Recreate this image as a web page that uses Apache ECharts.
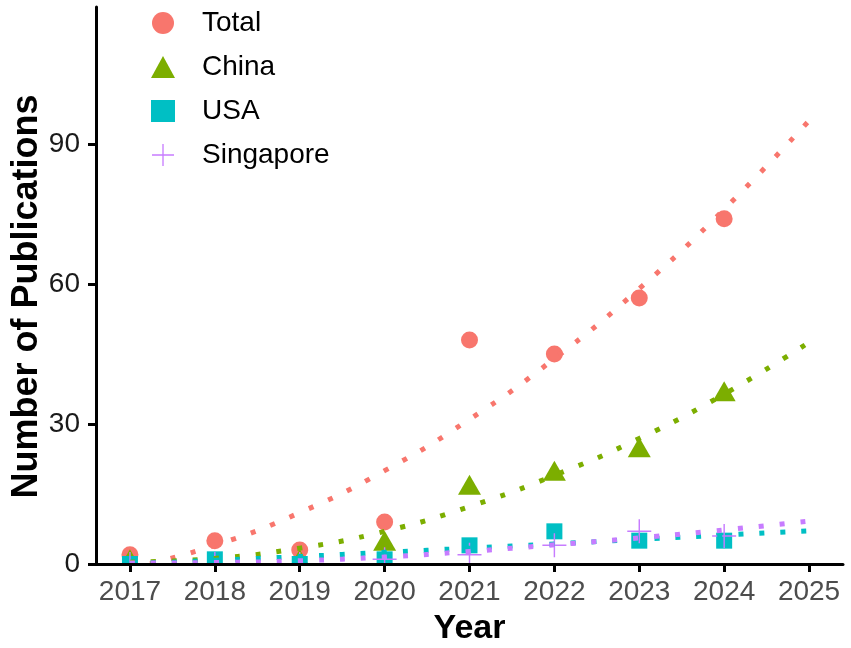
<!DOCTYPE html>
<html>
<head>
<meta charset="utf-8">
<title>Publications per year</title>
<script src="https://cdn.jsdelivr.net/npm/echarts@6/dist/echarts.min.js"></script>
<style>
  html, body { margin: 0; padding: 0; background: #fff; }
  #main { width: 851px; height: 648px; }
</style>
</head>
<body>
<div id="main"></div>
<script>
// observed counts
const years = [2017, 2018, 2019, 2020, 2021, 2022, 2023, 2024];
const total = [2, 5, 3, 9, 48, 45, 57, 74];
const china = [1, 0, 1, 5, 17, 20, 25, 37];
const usa = [0, 1, 0, 1, 4, 7, 5, 5];
const singapore = [0, 0, 0, 1, 2, 4, 7, 6];

// fitted trend curves
const trendYears = [2017, 2018, 2019, 2020, 2021, 2022, 2023, 2024, 2025];
const totalTrend = [-1, 4, 11, 20, 31, 44, 59, 76, 95];
const chinaTrend = [0.4, 1.2, 3.4, 7.0, 12.3, 19.0, 26.9, 36.4, 47.5];
const usaTrend = [0, 0.8, 1.6, 2.5, 3.4, 4.3, 5.3, 6.2, 7.1];
const singaporeTrend = [0.2, 0.3, 0.7, 1.5, 2.7, 4.1, 5.6, 7.3, 9.2];

const yTicks = [0, 30, 60, 90];
const xTicks = [2017, 2018, 2019, 2020, 2021, 2022, 2023, 2024, 2025];

const FONT = "'Liberation Sans', Arial, sans-serif";
const PLUS = "path://M-0.06,-1 L0.06,-1 L0.06,-0.06 L1,-0.06 L1,0.06 L0.06,0.06 L0.06,1 L-0.06,1 L-0.06,0.06 L-1,0.06 L-1,-0.06 L-0.06,-0.06 Z";

function pairs(xs, ys) {
  return xs.map(function (x, i) { return [x, ys[i]]; });
}

function points(name, values, color, symbol, size) {
  return {
    name: name,
    type: "scatter",
    data: pairs(years, values),
    symbol: symbol,
    symbolSize: size,
    itemStyle: { color: color, opacity: 1 },
    z: 2,
    silent: true,
  };
}

function trend(name, values, color) {
  return {
    name: name,
    type: "line",
    data: pairs(trendYears, values),
    smooth: true,
    showSymbol: false,
    lineStyle: { color: color, width: 5, type: [5, 16] },
    z: 3,
    silent: true,
  };
}

var myChart = echarts.init(document.getElementById("main"));

var option = {
  backgroundColor: "#fff",
  animation: false,
  textStyle: { fontFamily: FONT },
  grid: { left: 96, right: 8, top: 7, bottom: 84, containLabel: false, outerBoundsMode: "none" },
  // white strip under the panel so markers sitting on 0 are cut at the axis, as in the original
  graphic: [
    {
      type: "rect",
      z: 5,
      silent: true,
      shape: { x: 98, y: 565, width: 753, height: 16 },
      style: { fill: "#fff" },
    },
  ],
  legend: {
    orient: "vertical",
    left: 151,
    top: 8,
    padding: 0,
    itemWidth: 24,
    itemHeight: 22,
    itemGap: 14,
    textStyle: { fontSize: 28, color: "#000", fontFamily: FONT, lineHeight: 30, padding: [0, 0, 0, 22] },
    data: ["Total", "China", "USA", "Singapore"],
  },
  xAxis: {
    type: "value",
    z: 10,
    min: 2016.6,
    max: 2025.4,
    name: "Year",
    nameLocation: "middle",
    nameGap: 48,
    nameTextStyle: { fontSize: 34, fontWeight: "bold", color: "#000", fontFamily: FONT },
    splitLine: { show: false },
    axisLine: { show: true, onZero: false, lineStyle: { color: "#000", width: 3 } },
    axisTick: { show: true, length: 8, customValues: xTicks, lineStyle: { color: "#000", width: 3 } },
    axisLabel: {
      customValues: xTicks,
      margin: 14,
      fontSize: 28,
      color: "#4d4d4d",
      fontFamily: FONT,
      formatter: function (v) { return String(v); },
    },
  },
  yAxis: {
    type: "value",
    z: 10,
    min: 0,
    max: 119.35,
    name: "Number of Publications",
    nameLocation: "middle",
    nameGap: 51,
    nameMoveOverlap: false,
    nameTextStyle: { fontSize: 36, fontWeight: "bold", color: "#000", fontFamily: FONT, padding: [0, 22, 0, 0] },
    splitLine: { show: false },
    axisLine: { show: true, lineStyle: { color: "#000", width: 3 } },
    axisTick: { show: true, length: 8, customValues: yTicks, lineStyle: { color: "#000", width: 3 } },
    axisLabel: { customValues: yTicks, margin: 16, fontSize: 28, color: "#1a1a1a", fontFamily: FONT },
  },
  series: [
    points("Total", total, "#F8766D", "circle", 17),
    points("China", china, "#7CAE00", "triangle", [23, 20]),
    points("USA", usa, "#00BFC4", "rect", 16),
    points("Singapore", singapore, "#C77CFF", PLUS, 24),
    trend("Total", totalTrend, "#F8766D"),
    trend("China", chinaTrend, "#7CAE00"),
    trend("USA", usaTrend, "#00BFC4"),
    trend("Singapore", singaporeTrend, "#C77CFF"),
  ],
};

myChart.setOption(option);
</script>
</body>
</html>
